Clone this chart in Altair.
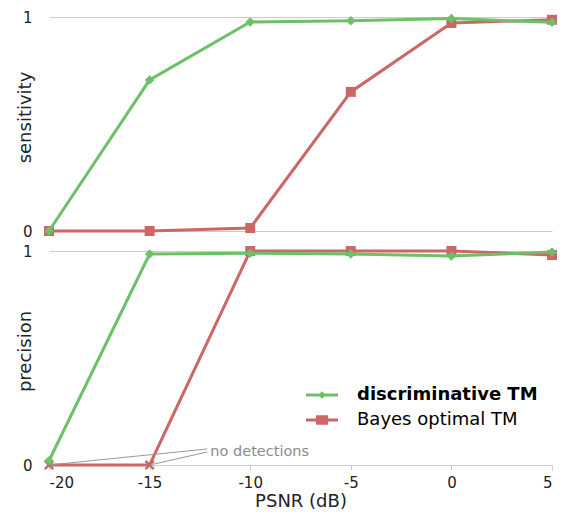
import altair as alt
import pandas as pd

# ---------------- data ----------------
psnr = [-20, -15, -10, -5, 0, 5]
sens_disc = [0.0, 0.706, 0.977, 0.982, 0.993, 0.975]
sens_bayes = [0.0, 0.0, 0.014, 0.65, 0.972, 0.987]
prec_disc = [0.02, 0.986, 0.99, 0.986, 0.977, 0.995]
prec_bayes = [0.0, 0.0, 1.0, 1.0, 1.0, 0.981]
prec_bayes_nodet = [True, True, False, False, False, False]

series_names = ["discriminative TM", "Bayes optimal TM"]
colors = ["#6cc066", "#cb6767"]

x_ticks = [-20, -15, -10, -5, 0, 5]
y_ticks = [0, 1]

note_text = ["no detections"]
note_x_start = [-20, -15]
note_y_start = [0.0, 0.0]
note_x_end = [-12.13, -12.13]
note_y_end = [0.075, 0.061]
note_label_x = [-11.98]
note_label_y = [0.042]

# ---------------- tables ----------------
def long_table(disc, bayes, nodet=None):
    rows = []
    for i, x in enumerate(psnr):
        rows.append({"psnr": x, "value": disc[i], "series": series_names[0], "nodet": False})
    for i, x in enumerate(psnr):
        rows.append({"psnr": x, "value": bayes[i], "series": series_names[1],
                     "nodet": bool(nodet[i]) if nodet else False})
    return pd.DataFrame(rows)

sens_df = long_table(sens_disc, sens_bayes)
prec_df = long_table(prec_disc, prec_bayes, prec_bayes_nodet)
note_lines_df = pd.DataFrame({"x": note_x_start, "y": note_y_start, "x2": note_x_end, "y2": note_y_end})
note_text_df = pd.DataFrame({"x": note_label_x, "y": note_label_y, "t": note_text})
legend_df = pd.DataFrame({"series": series_names, "psnr": [psnr[0]] * 2, "value": [0.0, 0.0]})

W, H = 503, 214
FONT = "DejaVu Sans"
GRID = "#cccccc"

xscale = alt.Scale(domain=[-20, 5], nice=False, zero=False)
yscale = alt.Scale(domain=[0, 1], nice=False, zero=False)


def yaxis(title):
    return alt.Axis(title=title, values=y_ticks, format="d", grid=True, gridColor=GRID,
                    gridWidth=1, domain=False, ticks=False, tickSize=0, labelPadding=17,
                    labelFont=FONT, labelFontSize=15, labelColor="#222222",
                    titleFont=FONT, titleFontSize=18, titleFontWeight="normal",
                    titleColor="#222222", titleX=-23.5, titleY=100, titleAngle=270,
                    titleBaseline="middle", titleAlign="center")


xaxis_bottom = alt.Axis(title="PSNR (dB)", values=x_ticks, labelExpr="'' + datum.value",
                        grid=False, domain=True, domainColor=GRID, ticks=True, tickColor=GRID,
                        tickSize=5, labelPadding=5, labelFont=FONT, labelFontSize=15,
                        labelColor="#222222", titleFont=FONT, titleFontSize=18,
                        titleFontWeight="normal", titleColor="#222222", titlePadding=2)


def panel(df, ytitle, xaxis, extra_layers=()):
    base = alt.Chart(df)
    x_enc = alt.X("psnr:Q", scale=xscale, axis=xaxis)
    y_enc = alt.Y("value:Q", scale=yscale, axis=yaxis(ytitle))
    is_disc = alt.datum.series == series_names[0]
    is_bayes = alt.datum.series == series_names[1]
    red_line = base.transform_filter(is_bayes).mark_line(
        color=colors[1], strokeWidth=3).encode(x=x_enc, y=y_enc)
    red_sq = base.transform_filter(is_bayes & (alt.datum.nodet == False)).mark_point(
        shape="square", filled=True, size=100, color=colors[1], opacity=1).encode(x=x_enc, y=y_enc)
    red_x = base.transform_filter(is_bayes & (alt.datum.nodet == True)).mark_point(
        shape="M-1,-1L1,1M1,-1L-1,1", filled=False, size=70, strokeWidth=2.5,
        color=colors[1], opacity=1).encode(x=x_enc, y=y_enc)
    green_line = base.transform_filter(is_disc).mark_line(
        color=colors[0], strokeWidth=3).encode(x=x_enc, y=y_enc)
    green_dm = base.transform_filter(is_disc).mark_point(
        shape="diamond", filled=True, size=90, color=colors[0], opacity=1).encode(x=x_enc, y=y_enc)
    layers = [red_line, red_sq, red_x, green_line, green_dm] + list(extra_layers)
    return alt.layer(*layers).properties(width=W, height=H)


# annotation
note_rules = alt.Chart(note_lines_df).mark_rule(color="#999999", strokeWidth=1).encode(
    x=alt.X("x:Q", scale=xscale), y=alt.Y("y:Q", scale=yscale),
    x2="x2:Q", y2="y2:Q")
note_label = alt.Chart(note_text_df).mark_text(
    align="left", baseline="alphabetic", font=FONT, fontSize=14.5, color="#8c8c8c").encode(
    x=alt.X("x:Q", scale=xscale), y=alt.Y("y:Q", scale=yscale), text="t:N")

# legend (from a layer that draws no marks)
leg = alt.Legend(title=None, orient="none", legendX=257, legendY=128, symbolSize=1024,
                 symbolStrokeWidth=0, labelFont=FONT, labelFontSize=18, labelColor="#000000",
                 labelOffset=19, rowPadding=-5, padding=0, labelLimit=0,
                 labelFontWeight=alt.ExprRef(expr="datum.label == 'discriminative TM' ? 'bold' : 'normal'"))
legend_paths = [
    "M-1,-0.1H1V0.1H-1Z M0,-0.24L0.24,0L0,0.24L-0.24,0Z",
    "M-1,-0.1H1V0.1H-1Z M-0.38,-0.3H0.38V0.3H-0.38Z",
]
legend_layer = alt.Chart(legend_df).transform_filter("false").mark_point(
    filled=True, opacity=1).encode(
    x=alt.X("psnr:Q", scale=xscale), y=alt.Y("value:Q", scale=yscale),
    color=alt.Color("series:N", scale=alt.Scale(domain=series_names, range=colors), legend=leg),
    shape=alt.Shape("series:N", scale=alt.Scale(domain=series_names, range=legend_paths), legend=leg),
)

top = panel(sens_df, "sensitivity", None)
bottom = panel(prec_df, "precision", xaxis_bottom, [note_rules, note_label, legend_layer])

chart = alt.vconcat(top, bottom, spacing=20, bounds="flush").resolve_legend(
    color="independent", shape="independent").properties(
    padding={"left": 8, "top": 2, "right": 0, "bottom": 0}
).configure(font=FONT).configure_view(stroke="transparent", strokeWidth=0)

chart.save("out.html", embed_options={"renderer": "svg", "actions": False})
